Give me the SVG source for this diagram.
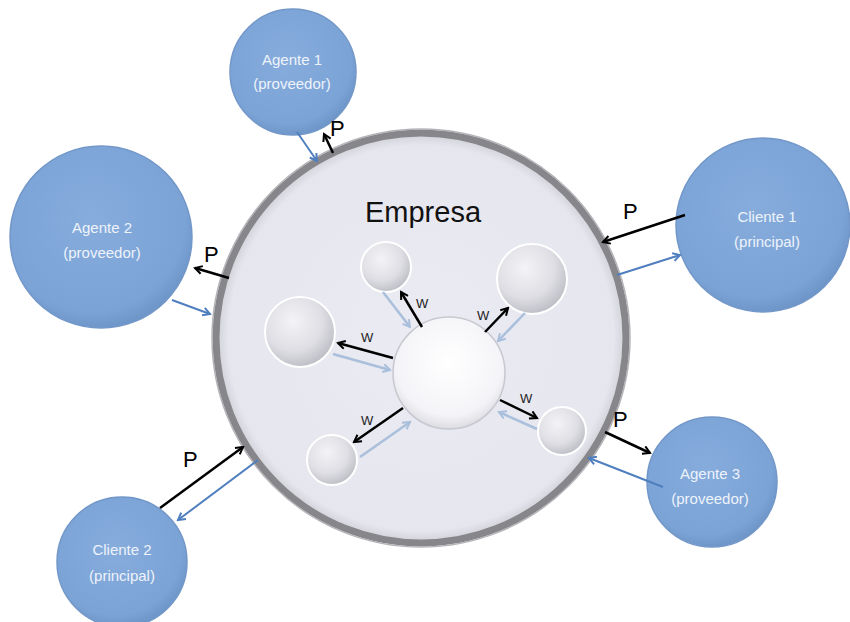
<svg xmlns="http://www.w3.org/2000/svg" width="850" height="622" viewBox="0 0 850 622">
<defs>
<radialGradient id="blueG" cx="0.45" cy="0.4" r="0.6">
<stop offset="0" stop-color="#86acdc"/>
<stop offset="0.85" stop-color="#7ba3d6"/>
<stop offset="1" stop-color="#6f96c9"/>
</radialGradient>
<radialGradient id="sphere" cx="0.4" cy="0.35" r="0.7">
<stop offset="0" stop-color="#f4f4f7"/>
<stop offset="0.6" stop-color="#dedee4"/>
<stop offset="1" stop-color="#b9b9c1"/>
</radialGradient>
<radialGradient id="center" cx="0.5" cy="0.4" r="0.6">
<stop offset="0" stop-color="#ffffff"/>
<stop offset="0.8" stop-color="#f4f4f8"/>
<stop offset="1" stop-color="#dcdce2"/>
</radialGradient>
<radialGradient id="emp" cx="0.5" cy="0.5" r="0.5">
<stop offset="0" stop-color="#ebebf3"/>
<stop offset="0.94" stop-color="#e6e6ee"/>
<stop offset="1" stop-color="#cfcfd6"/>
</radialGradient>
<marker id="ak" viewBox="0 0 10 10" refX="8" refY="5" markerWidth="10" markerHeight="10" markerUnits="userSpaceOnUse" orient="auto">
<path d="M1,1 L8,5 L1,9" fill="none" stroke="#000" stroke-width="2"/>
</marker>
<marker id="ab" viewBox="0 0 10 10" refX="8" refY="5" markerWidth="10" markerHeight="10" markerUnits="userSpaceOnUse" orient="auto">
<path d="M1,1 L8,5 L1,9" fill="none" stroke="#4f7fbf" stroke-width="2"/>
</marker>
<marker id="al" viewBox="0 0 10 10" refX="8" refY="5" markerWidth="10" markerHeight="10" markerUnits="userSpaceOnUse" orient="auto">
<path d="M1,1 L8,5 L1,9" fill="none" stroke="#a9bfdb" stroke-width="2"/>
</marker>
</defs>
<style>
.ext{fill:url(#blueG);stroke:#7297c8;stroke-width:1.5}
.lbl{font-family:"Liberation Sans",Arial,sans-serif;font-size:15px;fill:#eef3fa;text-anchor:middle}
.sph{fill:url(#sphere);stroke:#ffffff;stroke-width:2}
.p{font-family:"Liberation Sans",Arial,sans-serif;font-size:22px;fill:#000}
.w{font-family:"Liberation Sans",Arial,sans-serif;font-size:13px;fill:#222}
.bk{stroke:#000;stroke-width:2.5;fill:none;marker-end:url(#ak)}
.bl{stroke:#4f7fbf;stroke-width:2;fill:none;marker-end:url(#ab)}
.lb{stroke:#a9bfdb;stroke-width:2.5;fill:none;marker-end:url(#al)}
</style>
<rect width="850" height="622" fill="#ffffff"/>

<g id="empresa">
<circle cx="421" cy="338" r="205" fill="url(#emp)" stroke="#86868b" stroke-width="7"/>
<circle cx="421" cy="338" r="209" fill="none" stroke="#b4b4b8" stroke-width="1.5"/>
<text x="423" y="222" font-family="'Liberation Sans',Arial,sans-serif" font-size="29" fill="#111" text-anchor="middle">Empresa</text>
</g>

<g id="agente1">
<circle class="ext" cx="293" cy="72" r="63"/>
<text class="lbl" x="292" y="65">Agente 1</text>
<text class="lbl" x="292" y="89">(proveedor)</text>
</g>
<g id="agente2">
<circle class="ext" cx="101" cy="237" r="91"/>
<text class="lbl" x="102" y="233">Agente 2</text>
<text class="lbl" x="102" y="258">(proveedor)</text>
</g>
<g id="cliente1">
<circle class="ext" cx="763" cy="225" r="87"/>
<text class="lbl" x="767" y="222">Cliente 1</text>
<text class="lbl" x="767" y="247">(principal)</text>
</g>
<g id="agente3">
<circle class="ext" cx="712" cy="482" r="65"/>
<text class="lbl" x="710" y="479">Agente 3</text>
<text class="lbl" x="710" y="504">(proveedor)</text>
</g>
<g id="cliente2">
<circle class="ext" cx="122" cy="562" r="65"/>
<text class="lbl" x="122" y="555">Cliente 2</text>
<text class="lbl" x="122" y="581">(principal)</text>
</g>

<g id="nucleo">
<circle cx="449" cy="373" r="56" fill="url(#center)" stroke="#c8c8d0" stroke-width="1.5"/>
</g>
<g id="s1"><circle class="sph" cx="386" cy="267" r="25"/></g>
<g id="s2"><circle class="sph" cx="532" cy="279" r="35"/></g>
<g id="s3"><circle class="sph" cx="300" cy="332" r="35"/></g>
<g id="s4"><circle class="sph" cx="332" cy="460" r="25"/></g>
<g id="s5"><circle class="sph" cx="562" cy="431" r="24"/></g>

<g id="connectors">
<line class="lb" x1="383" y1="292" x2="410" y2="327"/>
<line class="lb" x1="525" y1="313" x2="498" y2="341"/>
<line class="lb" x1="333" y1="354" x2="390" y2="370"/>
<line class="lb" x1="360" y1="457" x2="410" y2="422"/>
<line class="lb" x1="537" y1="429" x2="499" y2="412"/>

<line class="bk" x1="422" y1="327" x2="401" y2="292"/>
<line class="bk" x1="485" y1="332" x2="508" y2="308"/>
<line class="bk" x1="393" y1="358" x2="338" y2="343"/>
<line class="bk" x1="403" y1="408" x2="354" y2="442"/>
<line class="bk" x1="500" y1="400" x2="537" y2="418"/>

<line class="bk" x1="333" y1="153" x2="324" y2="134"/>
<line class="bl" x1="297" y1="132" x2="317" y2="161"/>
<line class="bk" x1="229" y1="278" x2="195" y2="268"/>
<line class="bl" x1="172" y1="300" x2="210" y2="314"/>
<line class="bk" x1="685" y1="215" x2="603" y2="242"/>
<line class="bl" x1="617" y1="275" x2="680" y2="255"/>
<line class="bk" x1="605" y1="432" x2="650" y2="453"/>
<line class="bl" x1="663" y1="487" x2="589" y2="458"/>
<line class="bk" x1="160" y1="508" x2="243" y2="447"/>
<line class="bl" x1="258" y1="460" x2="178" y2="520"/>
</g>

<g id="labels">
<text class="p" x="330" y="136">P</text>
<text class="p" x="204" y="262">P</text>
<text class="p" x="623" y="219">P</text>
<text class="p" x="613" y="427">P</text>
<text class="p" x="183" y="467" font-size="24">P</text>
<text class="w" x="416" y="308">W</text>
<text class="w" x="477" y="320">W</text>
<text class="w" x="361" y="342">W</text>
<text class="w" x="361" y="425">W</text>
<text class="w" x="520" y="403">W</text>
</g>
</svg>
